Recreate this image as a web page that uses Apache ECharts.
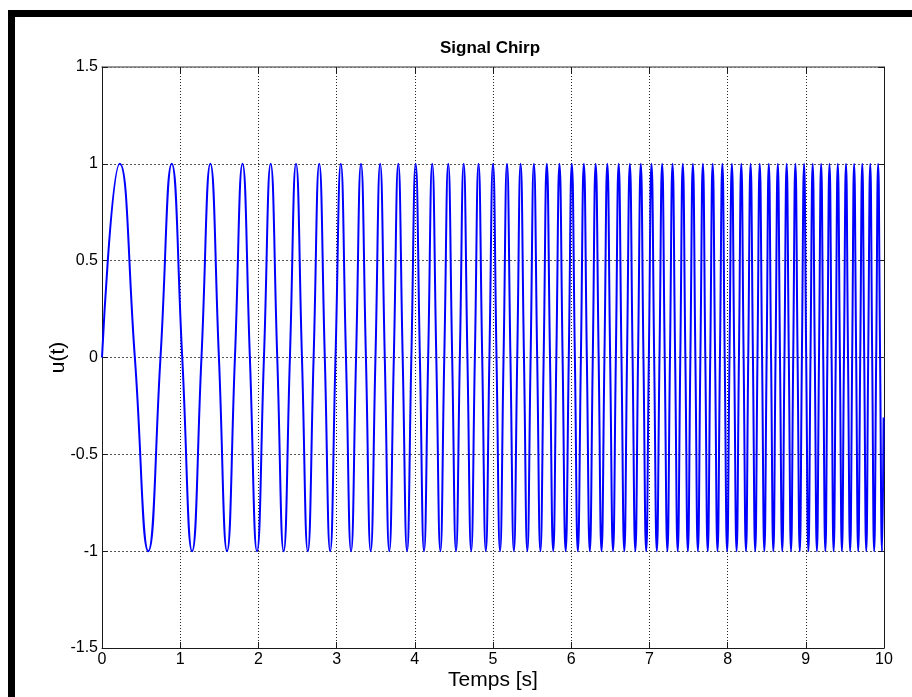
<!DOCTYPE html>
<html>
<head>
<meta charset="utf-8">
<script src="https://cdn.jsdelivr.net/npm/echarts@6/dist/echarts.min.js"></script>
<style>
html,body{margin:0;padding:0;background:#fff;}
#chart{width:912px;height:697px;}
</style>
</head>
<body>
<div id="chart"></div>
<script>
// Times (s) of the zero crossings and extrema read from the chirp
const tVals = [
  0, 0.227, 0.420, 0.592, 0.748, 0.892, 1.026, 1.152, 1.272, 1.386, 1.495, 1.599, 1.700, 1.797, 1.891, 1.982, 2.071, 2.157, 2.241, 2.323,
  2.403, 2.481, 2.557, 2.632, 2.706, 2.778, 2.849, 2.918, 2.986, 3.054, 3.120, 3.185, 3.249, 3.312, 3.375, 3.436, 3.497, 3.557, 3.616, 3.674,
  3.732, 3.789, 3.845, 3.901, 3.956, 4.011, 4.065, 4.118, 4.171, 4.223, 4.275, 4.327, 4.377, 4.428, 4.478, 4.527, 4.576, 4.625, 4.673, 4.721,
  4.768, 4.815, 4.862, 4.908, 4.954, 5.000, 5.045, 5.090, 5.135, 5.179, 5.223, 5.267, 5.310, 5.353, 5.396, 5.439, 5.481, 5.523, 5.565, 5.606,
  5.648, 5.688, 5.729, 5.770, 5.810, 5.850, 5.890, 5.929, 5.969, 6.008, 6.047, 6.085, 6.124, 6.162, 6.200, 6.238, 6.276, 6.313, 6.351, 6.388,
  6.425, 6.462, 6.498, 6.535, 6.571, 6.607, 6.643, 6.679, 6.714, 6.750, 6.785, 6.820, 6.855, 6.890, 6.924, 6.959, 6.993, 7.027, 7.061, 7.095,
  7.129, 7.163, 7.196, 7.230, 7.263, 7.296, 7.329, 7.362, 7.395, 7.427, 7.460, 7.492, 7.524, 7.556, 7.588, 7.620, 7.652, 7.684, 7.715, 7.746,
  7.778, 7.809, 7.840, 7.871, 7.902, 7.933, 7.963, 7.994, 8.024, 8.055, 8.085, 8.115, 8.145, 8.175, 8.205, 8.235, 8.264, 8.294, 8.324, 8.353,
  8.382, 8.411, 8.441, 8.470, 8.499, 8.527, 8.556, 8.585, 8.613, 8.642, 8.670, 8.699, 8.727, 8.755, 8.783, 8.811, 8.839, 8.867, 8.895, 8.923,
  8.950, 8.978, 9.005, 9.033, 9.060, 9.088, 9.115, 9.142, 9.169, 9.196, 9.223, 9.250, 9.276, 9.303, 9.330, 9.356, 9.383, 9.409, 9.436, 9.462,
  9.488, 9.514, 9.540, 9.567, 9.593, 9.618, 9.644, 9.670, 9.696, 9.722, 9.747, 9.773, 9.798, 9.824, 9.849, 9.874, 9.900, 9.925, 9.950, 9.975,
  9.995
];
// Signal values u(t) at those times
const uVals = [
  0, 1, 0, -1, 0, 1, 0, -1, 0, 1, 0, -1, 0, 1, 0, -1, 0, 1, 0, -1,
  0, 1, 0, -1, 0, 1, 0, -1, 0, 1, 0, -1, 0, 1, 0, -1, 0, 1, 0, -1,
  0, 1, 0, -1, 0, 1, 0, -1, 0, 1, 0, -1, 0, 1, 0, -1, 0, 1, 0, -1,
  0, 1, 0, -1, 0, 1, 0, -1, 0, 1, 0, -1, 0, 1, 0, -1, 0, 1, 0, -1,
  0, 1, 0, -1, 0, 1, 0, -1, 0, 1, 0, -1, 0, 1, 0, -1, 0, 1, 0, -1,
  0, 1, 0, -1, 0, 1, 0, -1, 0, 1, 0, -1, 0, 1, 0, -1, 0, 1, 0, -1,
  0, 1, 0, -1, 0, 1, 0, -1, 0, 1, 0, -1, 0, 1, 0, -1, 0, 1, 0, -1,
  0, 1, 0, -1, 0, 1, 0, -1, 0, 1, 0, -1, 0, 1, 0, -1, 0, 1, 0, -1,
  0, 1, 0, -1, 0, 1, 0, -1, 0, 1, 0, -1, 0, 1, 0, -1, 0, 1, 0, -1,
  0, 1, 0, -1, 0, 1, 0, -1, 0, 1, 0, -1, 0, 1, 0, -1, 0, 1, 0, -1,
  0, 1, 0, -1, 0, 1, 0, -1, 0, 1, 0, -1, 0, 1, 0, -1, 0, 1, 0, -1,
  -0.31
];
const xTicks = {min: 0, max: 10, interval: 1};
const yTicks = {min: -1.5, max: 1.5, interval: 0.5};
const titleText = 'Signal Chirp';
const xName = 'Temps [s]';
const yName = 'u(t)';

const FONT = "'Liberation Sans', Arial, Helvetica, sans-serif";
const seriesData = tVals.map((t, i) => [t, uVals[i]]);

const chart = echarts.init(document.getElementById('chart'), null, {renderer: 'canvas'});

const axisLineStyle = {color: '#1a1a1a', width: 1};

chart.setOption({
  animation: false,
  backgroundColor: '#ffffff',
  title: {
    text: titleText,
    left: 485,
    top: 35,
    textAlign: 'center',
    textStyle: {fontFamily: FONT, fontWeight: 'bold', fontSize: 17, color: '#000'}
  },
  grid: {left: 102, top: 67, right: 28, bottom: 49, containLabel: false},
  xAxis: [
    {
      type: 'value', position: 'bottom',
      min: xTicks.min, max: xTicks.max, interval: xTicks.interval,
      name: xName, nameLocation: 'middle', nameGap: 22, nameMoveOverlap: false,
      nameTextStyle: {fontFamily: FONT, fontSize: 21, color: '#000'},
      axisLine: {show: true, onZero: false, lineStyle: axisLineStyle},
      axisTick: {show: true, inside: true, length: 6, lineStyle: axisLineStyle},
      axisLabel: {show: true, margin: 4, fontFamily: FONT, fontSize: 16, color: '#000'},
      splitLine: {show: true, lineStyle: {color: '#222', width: 1, type: [1, 2]}}
    },
    {
      type: 'value', position: 'top',
      min: xTicks.min, max: xTicks.max, interval: xTicks.interval,
      axisLine: {show: true, onZero: false, lineStyle: {color: '#777', width: 1.5}},
      axisTick: {show: true, inside: true, length: 6, lineStyle: axisLineStyle},
      axisLabel: {show: false},
      splitLine: {show: false}
    }
  ],
  yAxis: [
    {
      type: 'value', position: 'left',
      min: yTicks.min, max: yTicks.max, interval: yTicks.interval,
      name: yName, nameLocation: 'middle', nameGap: 33, nameMoveOverlap: false,
      nameTextStyle: {fontFamily: FONT, fontSize: 21, color: '#000'},
      axisLine: {show: true, onZero: false, lineStyle: axisLineStyle},
      axisTick: {show: true, inside: true, length: 6, lineStyle: axisLineStyle},
      axisLabel: {show: true, margin: 4, fontFamily: FONT, fontSize: 16, color: '#000'},
      splitLine: {show: true, lineStyle: {color: '#555', width: 1, type: [2, 2]}}
    },
    {
      type: 'value', position: 'right',
      min: yTicks.min, max: yTicks.max, interval: yTicks.interval,
      axisLine: {show: true, onZero: false, lineStyle: axisLineStyle},
      axisTick: {show: true, inside: true, length: 6, lineStyle: axisLineStyle},
      axisLabel: {show: false},
      splitLine: {show: false}
    }
  ],
  series: [
    {
      name: yName,
      type: 'line',
      xAxisIndex: 0,
      yAxisIndex: 0,
      data: seriesData,
      showSymbol: false,
      symbol: 'none',
      smooth: 0.5,
      clip: true,
      lineStyle: {color: '#0000ff', width: 2},
      z: 3
    }
  ],
  graphic: [
    {type: 'rect', left: 8, top: 10, shape: {width: 7, height: 690}, style: {fill: '#000'}, z: 100},
    {type: 'rect', left: 8, top: 10, shape: {width: 910, height: 7}, style: {fill: '#000'}, z: 100}
  ]
});
</script>
</body>
</html>
